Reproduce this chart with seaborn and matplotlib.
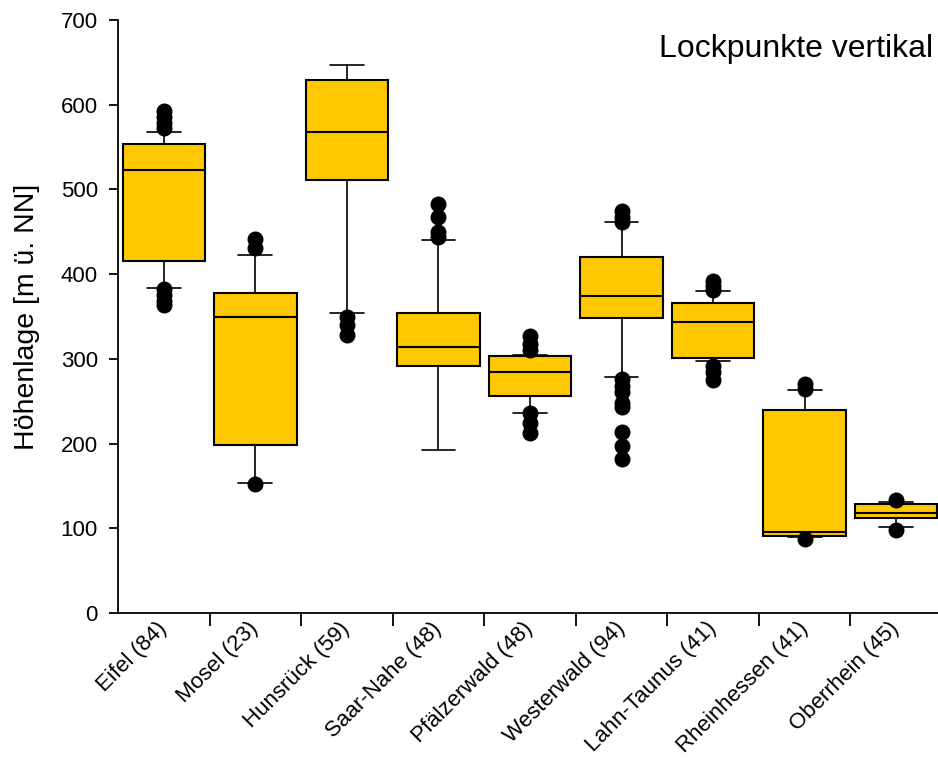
import matplotlib
matplotlib.use("Agg")
import matplotlib.pyplot as plt
import seaborn as sns
import numpy as np

# ---- data ----
categories = ["Eifel (84)", "Mosel (23)", "Hunsrück (59)", "Saar-Nahe (48)",
              "Pfälzerwald (48)", "Westerwald (94)", "Lahn-Taunus (41)",
              "Rheinhessen (41)", "Oberrhein (45)"]
whisker_low = [384, 153, 354, 192, 236, 279, 298, 90, 102]
q1 = [415, 198, 511, 291, 256, 348, 301, 91, 112]
median = [523, 350, 568, 314, 285, 374, 344, 96, 118]
q3 = [554, 378, 629, 354, 303, 420, 366, 240, 129]
whisker_high = [568, 423, 647, 440, 305, 462, 380, 263, 131]
fliers = [
    [593, 585, 578, 572, 382, 375, 368, 364],
    [442, 431, 152],
    [350, 340, 328],
    [483, 467, 450, 444],
    [327, 318, 311, 236, 224, 212],
    [475, 468, 462, 276, 268, 261, 248, 243, 214, 197, 182],
    [392, 386, 381, 292, 285, 275],
    [270, 265, 87],
    [133, 98],
]
title_text = "Lockpunkte vertikal"
ylabel_text = "Höhenlage [m ü. NN]"

sns.set_theme(style="ticks")
plt.rcParams["font.family"] = ["Liberation Sans", "DejaVu Sans"]

fig = plt.figure(figsize=(9.38, 7.64), dpi=100)
ax = fig.add_axes([118 / 938, 1 - 613 / 764, (942 - 118) / 938, (613 - 20) / 764])

stats = []
for i, c in enumerate(categories):
    stats.append(dict(label=c, whislo=whisker_low[i], q1=q1[i], med=median[i],
                      q3=q3[i], whishi=whisker_high[i], fliers=fliers[i]))

ax.bxp(stats, positions=range(len(categories)), widths=0.9, capwidths=0.37,
       patch_artist=True, showfliers=True,
       boxprops=dict(facecolor="#FFC800", edgecolor="black", linewidth=1.5),
       medianprops=dict(color="black", linewidth=1.5),
       whiskerprops=dict(color="black", linewidth=1.2),
       capprops=dict(color="black", linewidth=1.2),
       flierprops=dict(marker="o", markerfacecolor="black", markeredgecolor="black",
                       markersize=10.5, linestyle="none"))

ax.set_xlim(-0.5, len(categories) - 0.5)
ax.set_ylim(0, 700)
ax.set_yticks(np.arange(0, 701, 100))
ax.set_xticks(range(len(categories)))
ax.set_xticklabels(categories, rotation=45, ha="right", va="center",
                   rotation_mode="anchor", fontsize=16)
ax.set_xticks(np.arange(0.5, len(categories) - 0.5, 1), minor=True)
ax.tick_params(axis="x", which="major", length=0, pad=9)
ax.tick_params(axis="x", which="minor", length=9, width=1.3, color="black", direction="out")
ax.tick_params(axis="y", length=6.5, width=1.3, color="black", labelsize=16, direction="out", pad=8)
for lab in ax.get_yticklabels():
    lab.set_color("black")
for lab in ax.get_xticklabels():
    lab.set_color("black")

sns.despine(ax=ax)
for s in ["left", "bottom"]:
    ax.spines[s].set_color("black")
    ax.spines[s].set_linewidth(1.3)

ax.set_ylabel(ylabel_text, fontsize=20.5, color="black")
ax.yaxis.set_label_coords(-(118 - 40) / 824, 0.5)
ax.text(0.989, 0.951, title_text, transform=ax.transAxes, ha="right", va="center",
        fontsize=23, color="black")

fig.savefig("out.png", dpi=100)
